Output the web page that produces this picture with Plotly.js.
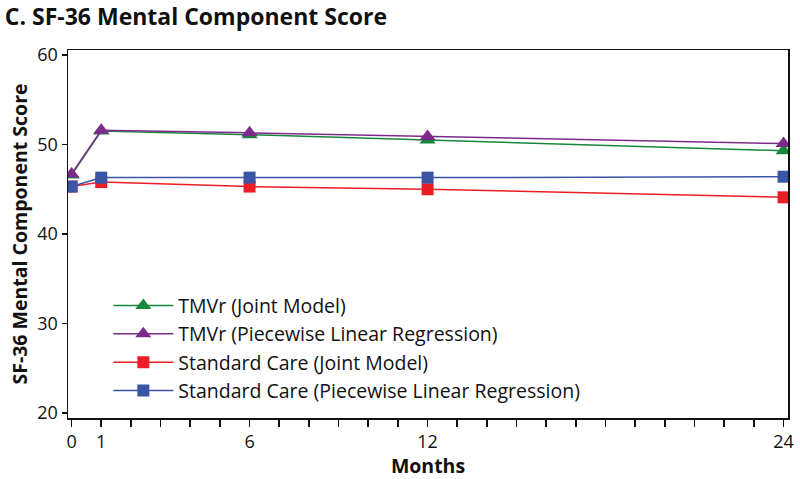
<!DOCTYPE html>
<html>
<head>
<meta charset="utf-8">
<script src="https://cdn.plot.ly/plotly-3.0.1.min.js"></script>
<style>html,body{margin:0;padding:0;background:#fff;}#chart{width:800px;height:479px;}</style>
</head>
<body>
<div id="chart"></div>
<script>
var months = [0, 1, 6, 12, 24];
var tmvrJoint = [46.6, 51.5, 51.1, 50.5, 49.3];
var tmvrPiecewise = [46.7, 51.6, 51.3, 50.9, 50.1];
var scJoint = [45.3, 45.8, 45.3, 45.0, 44.1];
var scPiecewise = [45.3, 46.3, 46.3, 46.3, 46.4];
var seriesNames = ['TMVr (Joint Model)', 'TMVr (Piecewise Linear Regression)', 'Standard Care (Joint Model)', 'Standard Care (Piecewise Linear Regression)'];
var xTickVals = [0, 1, 6, 12, 24];
var xTickText = ['0', '1', '6', '12', '24'];
var yTickVals = [20, 30, 40, 50, 60];

var colors = ['#17873d', '#7d2b8b', '#ee1c25', '#3a55a6'];
var symbols = ['triangle-up', 'triangle-up', 'square', 'square'];
var series = [tmvrJoint, tmvrPiecewise, scJoint, scPiecewise];

var traces = series.map(function (s, i) {
  return {
    x: months, y: s, name: seriesNames[i], type: 'scatter', mode: 'lines+markers',
    legendgroup: 'g' + i,
    line: {color: colors[i], width: 1.5},
    marker: {symbol: symbols[i], size: symbols[i] === 'square' ? 12 : 14, color: colors[i]}
  };
});

var font = 'Open Sans, Noto Sans, sans-serif';
var layout = {
  width: 800, height: 479,
  margin: {l: 68, r: 12, t: 50, b: 61},
  paper_bgcolor: '#fff', plot_bgcolor: '#fff',
  font: {family: font, size: 18, color: '#111'},
  title: {text: '<b>C. SF-36 Mental Component Score</b>', x: 0.006, xanchor: 'left', y: 0.965, yanchor: 'middle', font: {family: font, size: 23, color: '#111'}},
  showlegend: true,
  legend: {x: 0.056, y: 0.358, xanchor: 'left', yanchor: 'top', bgcolor: 'rgba(0,0,0,0)', font: {family: font, size: 19.5, color: '#111'}, tracegroupgap: 0, traceorder: 'grouped', itemwidth: 60},
  xaxis: {
    range: [-0.12, 24.15], tickvals: xTickVals, ticktext: xTickText,
    ticks: 'outside', ticklen: 7, tickwidth: 1.5, tickcolor: '#111',
    minor: {dtick: 1, tick0: 0, ticks: 'outside', ticklen: 7, tickwidth: 1.5, tickcolor: '#111', showgrid: false},
    showline: true, linecolor: '#111', linewidth: 1.5, mirror: true,
    showgrid: false, zeroline: false,
    tickfont: {family: font, size: 18, color: '#111'},
    title: {text: '<b>Months</b>', font: {family: font, size: 19.5, color: '#111'}, standoff: 0}
  },
  yaxis: {
    range: [19.44, 60.56], tickvals: yTickVals,
    ticks: 'outside', ticklen: 5, tickwidth: 1.5, tickcolor: '#111',
    showline: true, linecolor: '#111', linewidth: 1.5, mirror: true,
    showgrid: false, zeroline: false,
    tickfont: {family: font, size: 18, color: '#111'},
    title: {text: '<b>SF-36 Mental Component Score</b>', font: {family: font, size: 19.5, color: '#111'}, standoff: 4}
  }
};

Plotly.newPlot('chart', traces, layout, {displayModeBar: false, staticPlot: true});
</script>
</body>
</html>
